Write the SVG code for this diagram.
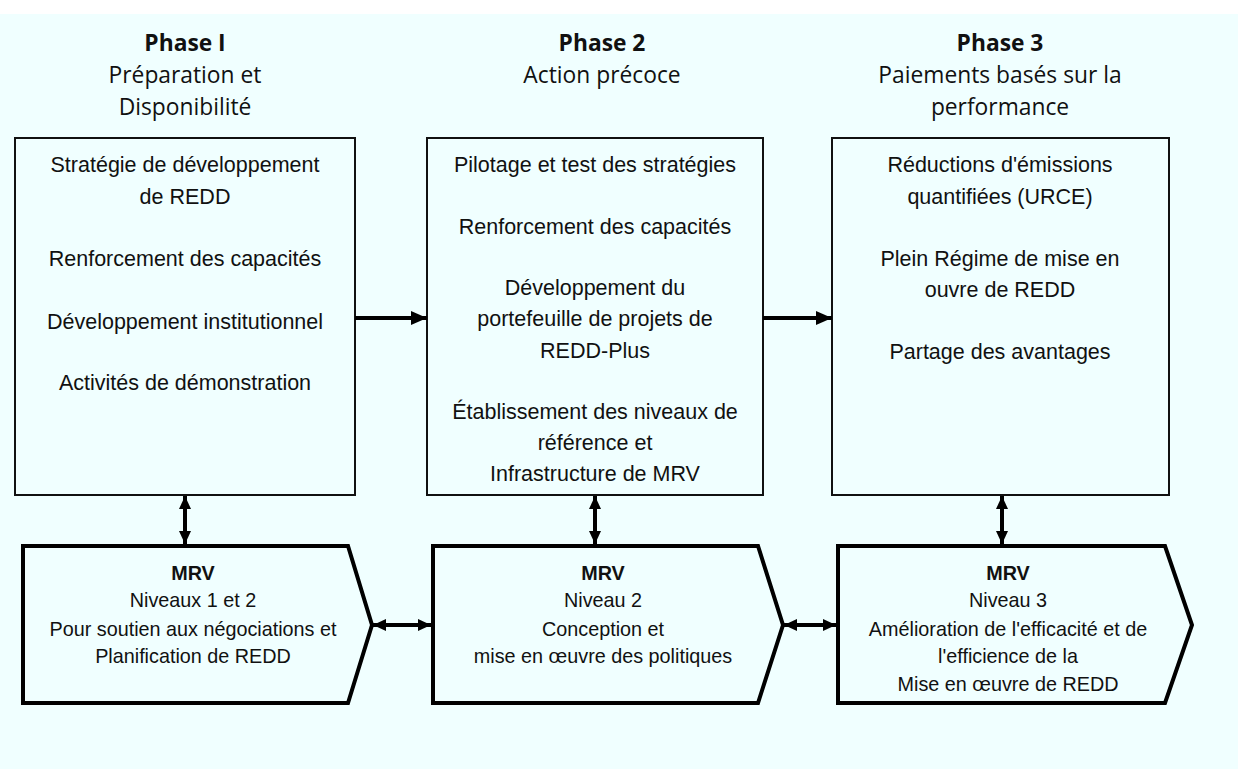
<svg xmlns="http://www.w3.org/2000/svg" width="1238" height="769" viewBox="0 0 1238 769">
<style>
.hd{font-family:"Open Sans","Noto Sans",sans-serif;font-size:22.8px;fill:#111;text-anchor:middle}
.b{font-weight:bold}
.t{font-family:"Liberation Sans",Arial,sans-serif;font-size:21.5px;fill:#111;text-anchor:middle}
.s{font-family:"Liberation Sans",Arial,sans-serif;font-size:19.8px;fill:#111;text-anchor:middle}
.box{fill:#F0FFFF;stroke:#111;stroke-width:2}
.pent{fill:#F0FFFF;stroke:#000;stroke-width:4;stroke-linejoin:miter}
.ln{stroke:#000;stroke-width:4;fill:none}
</style>
<defs>
<marker id="ah" markerUnits="userSpaceOnUse" markerWidth="18" markerHeight="18" refX="16" refY="9" orient="auto-start-reverse">
<path d="M0,2 L16,9 L0,16 Z" fill="#000"/>
</marker>
<marker id="sh" markerUnits="userSpaceOnUse" markerWidth="14" markerHeight="14" refX="13" refY="7" orient="auto-start-reverse">
<path d="M0,1 L13,7 L0,13 Z" fill="#000"/>
</marker>
</defs>
<rect x="0" y="0" width="1238" height="769" fill="#fff"/>
<rect x="0" y="14" width="1238" height="755" fill="#F0FFFF"/>

<g id="headers">
<text class="hd b" x="185" y="51">Phase I</text>
<text class="hd" x="185" y="83">Préparation et</text>
<text class="hd" x="185" y="115">Disponibilité</text>
<text class="hd b" x="602" y="51">Phase 2</text>
<text class="hd" x="602" y="83">Action précoce</text>
<text class="hd b" x="1000" y="51">Phase 3</text>
<text class="hd" x="1000" y="83">Paiements basés sur la</text>
<text class="hd" x="1000" y="115">performance</text>
</g>

<g id="phase1">
<rect class="box" x="15" y="138" width="340" height="357"/>
<text class="t" x="185" y="172">Stratégie de développement</text>
<text class="t" x="185" y="204">de REDD</text>
<text class="t" x="185" y="266">Renforcement des capacités</text>
<text class="t" x="185" y="329">Développement institutionnel</text>
<text class="t" x="185" y="390">Activités de démonstration</text>
</g>

<g id="phase2">
<rect class="box" x="427" y="138" width="336" height="357"/>
<text class="t" x="595" y="172">Pilotage et test des stratégies</text>
<text class="t" x="595" y="234">Renforcement des capacités</text>
<text class="t" x="595" y="295">Développement du</text>
<text class="t" x="595" y="326">portefeuille de projets de</text>
<text class="t" x="595" y="358">REDD-Plus</text>
<text class="t" x="595" y="419">Établissement des niveaux de</text>
<text class="t" x="595" y="450">référence et</text>
<text class="t" x="595" y="481">Infrastructure de MRV</text>
</g>

<g id="phase3">
<rect class="box" x="832" y="138" width="337" height="357"/>
<text class="t" x="1000" y="172">Réductions d'émissions</text>
<text class="t" x="1000" y="204">quantifiées (URCE)</text>
<text class="t" x="1000" y="266">Plein Régime de mise en</text>
<text class="t" x="1000" y="297">ouvre de REDD</text>
<text class="t" x="1000" y="359">Partage des avantages</text>
</g>

<g id="mrv1">
<path class="pent" d="M23,546 L348,546 L372,625 L348,703 L23,703 Z"/>
<text class="s b" x="193" y="580">MRV</text>
<text class="s" x="193" y="607">Niveaux 1 et 2</text>
<text class="s" x="193" y="636">Pour soutien aux négociations et</text>
<text class="s" x="193" y="663">Planification de REDD</text>
</g>

<g id="mrv2">
<path class="pent" d="M433,546 L758,546 L783,625 L758,703 L433,703 Z"/>
<text class="s b" x="603" y="580">MRV</text>
<text class="s" x="603" y="607">Niveau 2</text>
<text class="s" x="603" y="636">Conception et</text>
<text class="s" x="603" y="663">mise en œuvre des politiques</text>
</g>

<g id="mrv3">
<path class="pent" d="M838,546 L1165,546 L1192,625 L1165,703 L838,703 Z"/>
<text class="s b" x="1008" y="580">MRV</text>
<text class="s" x="1008" y="607">Niveau 3</text>
<text class="s" x="1008" y="636">Amélioration de l'efficacité et de</text>
<text class="s" x="1008" y="663">l'efficience de la</text>
<text class="s" x="1008" y="691">Mise en œuvre de REDD</text>
</g>

<g id="connectors">
<line class="ln" x1="355" y1="318" x2="427" y2="318" marker-end="url(#ah)"/>
<line class="ln" x1="763" y1="318" x2="832" y2="318" marker-end="url(#ah)"/>
<line class="ln" x1="185" y1="496" x2="185" y2="544" marker-start="url(#sh)" marker-end="url(#sh)"/>
<line class="ln" x1="595" y1="496" x2="595" y2="544" marker-start="url(#sh)" marker-end="url(#sh)"/>
<line class="ln" x1="1002" y1="496" x2="1002" y2="544" marker-start="url(#sh)" marker-end="url(#sh)"/>
<line class="ln" x1="373" y1="625" x2="431" y2="625" marker-start="url(#sh)" marker-end="url(#sh)"/>
<line class="ln" x1="784" y1="625" x2="836" y2="625" marker-start="url(#sh)" marker-end="url(#sh)"/>
</g>
</svg>
